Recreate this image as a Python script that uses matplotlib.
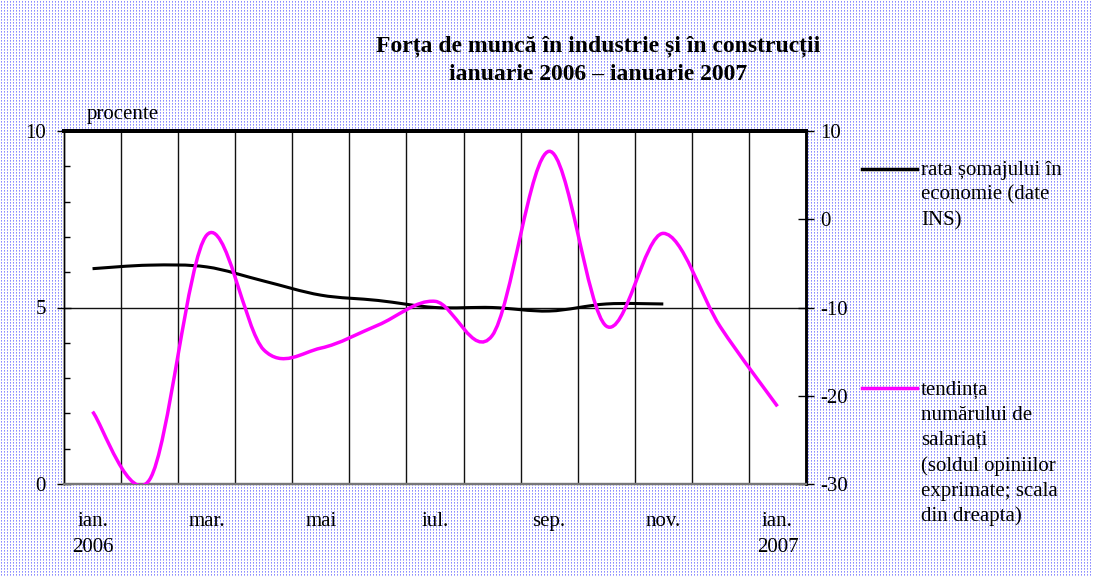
import numpy as np
import matplotlib
matplotlib.use("Agg")
import matplotlib.pyplot as plt
from matplotlib.path import Path
from matplotlib.patches import PathPatch

plt.rcParams['font.family'] = ['Liberation Serif', 'DejaVu Serif']

months = ["ian.", "feb.", "mar.", "apr.", "mai", "iun.", "iul.", "aug.", "sep.", "oct.", "nov.", "dec.", "ian."]
tick_labels = ["ian.\n2006", "mar.", "mai", "iul.", "sep.", "nov.", "ian.\n2007"]
somaj = [6.1, 6.2, 6.15, 5.75, 5.35, 5.2, 5.0, 5.0, 4.9, 5.1, 5.1]          # left scale, %
salariati = [-21.8, -29.5, -1.8, -14.8, -14.6, -12, -9.3, -13.2, 7.7, -12.1, -1.6, -12.2, -21.2]  # right scale

title1 = "Forța de muncă în industrie și în construcții"
title2 = "ianuarie 2006 – ianuarie 2007"
leg1 = ["rata șomajului în", "economie (date", "INS)"]
leg2 = ["tendința", "numărului de", "salariați", "(soldul opiniilor", "exprimate; scala", "din dreapta)"]

W, H = 1093, 577
fig = plt.figure(figsize=(W / 100, H / 100), dpi=100)

# dotted background
bg = np.ones((H, W, 3))
bg[1::3, 1::3] = (0.55, 0.55, 1.0)
bg[2::3, 1::3] = (0.70, 0.70, 1.0)
fig.figimage(bg, xo=0, yo=0, zorder=0)
fig.patch.set_alpha(0)

ax = fig.add_axes([64 / W, 1 - 484 / H, (806 - 64) / W, (484 - 131) / H])
ax.set_facecolor('white')
ax.set_zorder(1)
ax2 = ax.twinx()

n = len(months)
ax.set_xlim(-0.5, n - 0.5)
ax.set_ylim(0, 10)
ax2.set_ylim(-30, 10)


def smooth_path(xs, ys):
    pts = np.column_stack([xs, ys]).astype(float)
    verts = [pts[0]]
    codes = [Path.MOVETO]
    m = len(pts)
    for i in range(m - 1):
        p0 = pts[max(i - 1, 0)]
        p1 = pts[i]
        p2 = pts[i + 1]
        p3 = pts[min(i + 2, m - 1)]
        c1 = p1 + (p2 - p0) / 6.0
        c2 = p2 - (p3 - p1) / 6.0
        verts += [c1, c2, p2]
        codes += [Path.CURVE4] * 3
    return Path(verts, codes)


ax.add_patch(PathPatch(smooth_path(np.arange(len(somaj)), somaj), fill=False,
                       edgecolor='black', lw=2.2, zorder=3, capstyle='butt'))
ax2.add_patch(PathPatch(smooth_path(np.arange(len(salariati)), salariati), fill=False,
                        edgecolor='#ff00ff', lw=2.5, zorder=3, capstyle='butt'))

# x axis
ax.set_xticks([0, 2, 4, 6, 8, 10, 12])
ax.set_xticklabels(tick_labels, fontsize=15, linespacing=1.5)
ax.set_xticks(np.arange(-0.5, n, 1.0)[1:-1], minor=True)
ax.tick_params(axis='x', which='both', length=0, pad=20)
ax.grid(True, axis='x', which='minor', color='#111111', lw=1.0)

# left y axis
ax.set_yticks([0, 5, 10])
ax.set_yticklabels(["0", "5", "10"], fontsize=15)
ax.set_yticks(np.arange(0, 11, 1), minor=True)
ax.tick_params(axis='y', which='major', direction='inout', length=10, width=1, pad=8)
ax.tick_params(axis='y', which='minor', direction='in', length=4, width=1)
ax.grid(True, axis='y', which='major', color='#111111', lw=1.0)
ax.set_axisbelow(True)

# right y axis
ax2.set_yticks([-30, -20, -10, 0, 10])
ax2.set_yticklabels(["-30", "-20", "-10", "0", "10"], fontsize=15)
ax2.tick_params(axis='y', direction='inout', length=12, width=1, pad=4)

for a in (ax, ax2):
    a.spines['top'].set_linewidth(2.8)
    a.spines['top'].set_color('black')
    a.spines['bottom'].set_color('#777777')
    a.spines['bottom'].set_linewidth(1.6)
    a.spines['left'].set_linewidth(1.0)
    a.spines['right'].set_linewidth(1.8)

fig.text(87 / W, 1 - 115 / H, "procente", fontsize=15, ha='left', va='center')

fig.text(598 / W, 1 - 46 / H, title1, fontsize=17, fontweight='bold', ha='center', va='center')
fig.text(598 / W, 1 - 75 / H, title2, fontsize=17, fontweight='bold', ha='center', va='center')

# legend
fig.add_artist(plt.Line2D([862 / W, 917 / W], [1 - 169 / H, 1 - 169 / H], color='black', lw=2.5))
for i, s in enumerate(leg1):
    fig.text(921 / W, 1 - (170 + 25.3 * i) / H, s, fontsize=15, ha='left', va='center')
fig.add_artist(plt.Line2D([862 / W, 917 / W], [1 - 388 / H, 1 - 388 / H], color='#ff00ff', lw=2.5))
for i, s in enumerate(leg2):
    fig.text(921 / W, 1 - (390 + 25.3 * i) / H, s, fontsize=15, ha='left', va='center')

fig.savefig("out.png", dpi=100)
